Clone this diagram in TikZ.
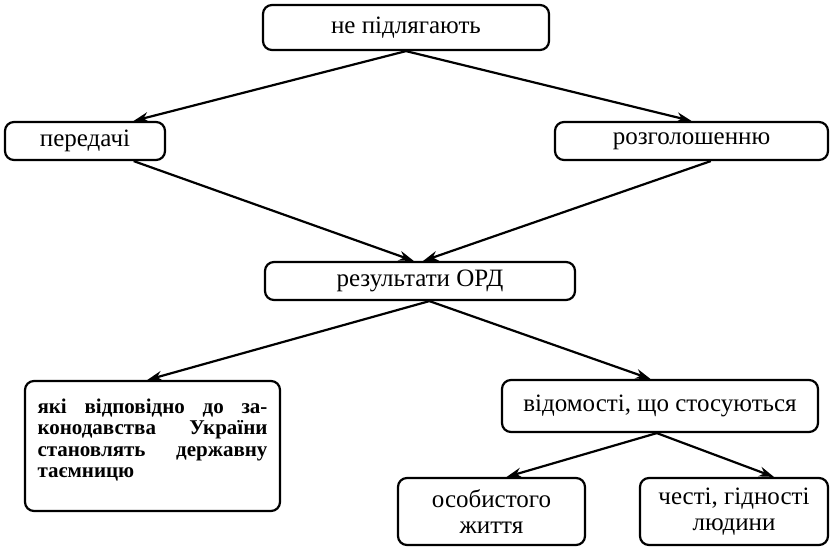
\documentclass[tikz,border=0pt]{standalone}
\usepackage{fontspec}
\setmainfont{Liberation Serif}
\usetikzlibrary{positioning, arrows.meta, calc}

\tikzset{
    box/.style={draw, line width=2.2pt, rounded corners=9pt, align=center,
        font=\fontsize{25}{26}\selectfont, inner sep=4pt},
    link/.style={line width=2.2pt, -{Stealth[length=15pt, width=10pt]}}
}

\begin{document}
\begin{tikzpicture}[x=1pt, y=-1pt]
    \useasboundingbox (0,0) rectangle (834,552);

    % top level
    \node[box, minimum width=286pt, minimum height=45pt] (npl) at (406, 27.5) {не підлягають};

    % second level
    \node[box, minimum width=160pt, minimum height=38pt] (ped) at (85, 141) {передачі};
    \node[box, minimum width=273pt, minimum height=38pt] (rozg) at (691.5, 141) {розголошенню};

    % middle
    \node[box, minimum width=310pt, minimum height=38pt] (ord) at (420, 281) {результати ОРД};

    % lower level
    \node[box, minimum width=255pt, minimum height=130pt, text width=230pt, align=justify,
        text depth=80pt, font=\bfseries\fontsize{21}{21.5}\selectfont] (taem) at (152.5, 446)
        {які відповідно до за-\linebreak конодавства України\linebreak становлять державну\linebreak таємницю};
    \node[box, minimum width=316pt, minimum height=52pt] (vid) at (660, 406) {відомості, що стосуються};

    % bottom level
    \node[box, minimum width=187pt, minimum height=67pt] (osob) at (491.5, 511.5) {особистого\\життя};
    \node[box, minimum width=188pt, minimum height=67pt] (chest) at (734, 511.5) {честі, гідності\\людини};

    % connectors
    \draw[link] (npl.south) -- ($(ped.north west)!0.8!(ped.north east)$);
    \draw[link] (npl.south) -- (rozg.north);
    \draw[link] ($(ped.south west)!0.8!(ped.south east)$) -- ($(ord.north west)!0.48!(ord.north east)$);
    \draw[link] ($(rozg.south west)!0.57!(rozg.south east)$) -- ($(ord.north west)!0.51!(ord.north east)$);
    \draw[link] ($(ord.south west)!0.53!(ord.south east)$) -- ($(taem.north west)!0.48!(taem.north east)$);
    \draw[link] ($(ord.south west)!0.53!(ord.south east)$) -- ($(vid.north west)!0.47!(vid.north east)$);
    \draw[link] ($(vid.south west)!0.49!(vid.south east)$) -- ($(osob.north west)!0.58!(osob.north east)$);
    \draw[link] ($(vid.south west)!0.49!(vid.south east)$) -- ($(chest.north west)!0.71!(chest.north east)$);
\end{tikzpicture}
\end{document}
